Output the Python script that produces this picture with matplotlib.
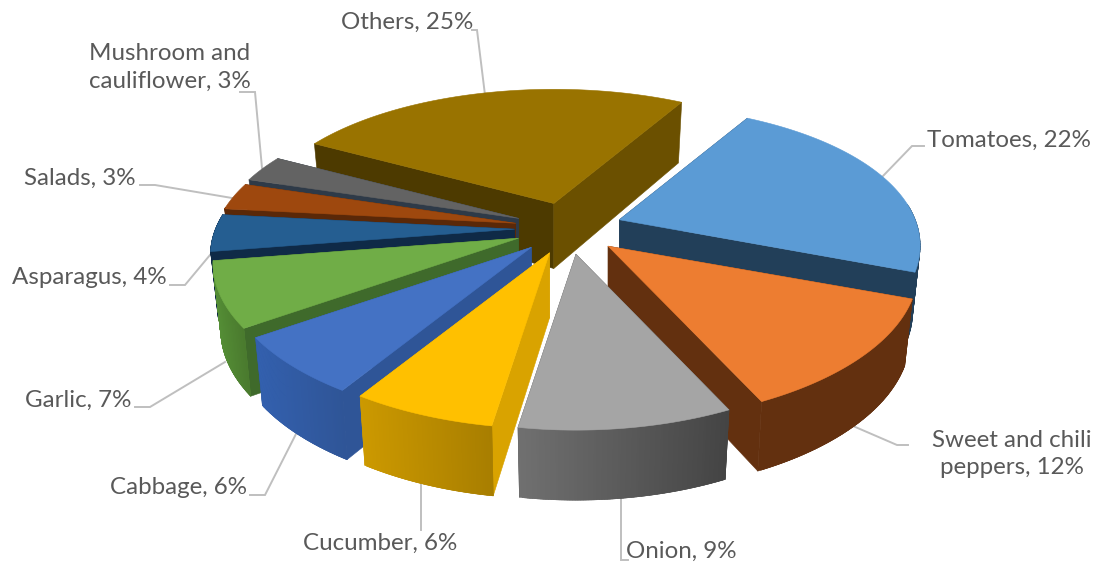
import numpy as np
import matplotlib
matplotlib.use("Agg")
import matplotlib.pyplot as plt
from matplotlib.patches import Polygon

# ---- data ----
categories = ["Tomatoes", "Sweet and chili\npeppers", "Onion", "Cucumber", "Cabbage",
              "Garlic", "Asparagus", "Salads", "Mushroom and\ncauliflower", "Others"]
# shares; the labels show them rounded
values = [22.4, 12.35, 9.45, 6.4, 6.4, 7.2, 4.2, 3.1, 3.1, 25.45]

# ---- style ----
top_colors = ["#5B9BD5", "#ED7D31", "#A5A5A5", "#FFC000", "#4472C4",
              "#70AD47", "#255E91", "#9E480E", "#636363", "#997300"]
face_end = ["#223F59", "#63300F", "#4A4A4A", "#D9A300", "#2F5597",
            "#3F6A2B", "#0F2A47", "#5A2808", "#2E3A48", "#6B5000"]
face_start = ["#223F59", "#63300F", "#4A4A4A", "#D9A300", "#2F5597",
              "#3F6A2B", "#0F2A47", "#5A2808", "#2E3A48", "#4D3A00"]
wall_left = ["#223F59", "#63300F", "#707070", "#CC9900", "#3360AE",
             "#558F36", "#0F2A47", "#5A2808", "#4C4C4C", "#6B5000"]
wall_right = ["#223F59", "#63300F", "#444444", "#A87E00", "#2F5597",
              "#4A7A2E", "#0F2A47", "#5A2808", "#4C4C4C", "#6B5000"]
draw_order = [9, 0, 8, 7, 6, 5, 4, 3, 1, 2]
start_angle = 30.0
text_color = "#595959"
leader_color = "#BFBFBF"

label_layout = [
    dict(xy=(1009, 140), ha="center", leader=[(883, 176), (912, 146), (924, 146)]),
    dict(xy=(1012, 454), ha="center", leader=[(853, 426), (897, 445), (908, 445)]),
    dict(xy=(681, 551), ha="center", leader=[(621, 498), (621, 560), (628, 560)]),
    dict(xy=(380, 543), ha="center", leader=[(421, 484), (421, 530)]),
    dict(xy=(179, 488), ha="center", leader=[(297, 432), (265, 495), (250, 495)]),
    dict(xy=(78, 400), ha="center", leader=[(225, 362), (150, 407), (135, 407)]),
    dict(xy=(89, 277), ha="center", leader=[(210, 255), (185, 285), (170, 285)]),
    dict(xy=(80, 178), ha="center", leader=[(232, 198), (155, 185), (140, 185)]),
    dict(xy=(170, 67), ha="center", leader=[(262, 168), (255, 92), (240, 92)]),
    dict(xy=(407, 22), ha="center", leader=[(485, 95), (477, 30), (472, 30)]),
]

# ---- projection of the tilted pie ----
CX, CY = 568.5, 228.5
EX, EY = 54.0, 26.0
A, B, PX, PY = 138.6, 299.0, 0.18, 0.208


def rim(phi, mid):
    u, v = np.sin(phi), -np.cos(phi)
    near = -np.cos(mid)
    kx = 1.0 + near * (0.012 + 0.02 * max(np.sin(mid), 0.0))
    return (B * u * kx / (1.0 - PX * v),
            A * v * (1.0 + 0.005 * near) / (1.0 - PY * v))


def lower(dx, dy, phi):
    v = -np.cos(phi)
    return dx * 0.975, dy + 65.0 + 5.0 * v


def mix(c1, c2, t):
    a = np.array(matplotlib.colors.to_rgb(c1))
    b = np.array(matplotlib.colors.to_rgb(c2))
    return tuple(a + (b - a) * t)


plt.rcParams["font.family"] = ["Lato", "DejaVu Sans"]
fig = plt.figure(figsize=(10.97, 5.65), dpi=100)
ax = fig.add_axes([0, 0, 1, 1])
ax.set_xlim(0, 1097)
ax.set_ylim(565, 0)
ax.axis("off")

fractions = np.array(values, dtype=float) / sum(values)
edges = np.radians(start_angle) + 2 * np.pi * np.concatenate([[0], np.cumsum(fractions)])


def poly(pts, color, z):
    ax.add_patch(Polygon(pts, closed=True, facecolor=color, edgecolor=color,
                         linewidth=0.4, zorder=z, joinstyle="round"))


z = 1
for i in draw_order:
    a0, a1 = edges[i], edges[i + 1]
    mid = (a0 + a1) / 2
    ax0 = CX + EX * np.sin(mid)
    ay0 = CY - EY * np.cos(mid)
    phis = np.linspace(a0, a1, 81)
    dx, dy = rim(phis, mid)
    top_x, top_y = ax0 + dx, ay0 + dy
    lx, ly = lower(dx, dy, phis)
    bot_x, bot_y = ax0 + lx, ay0 + ly
    abx, aby = ax0, ay0 + 65.0

    # radial faces
    poly([(ax0, ay0), (top_x[0], top_y[0]), (bot_x[0], bot_y[0]), (abx, aby)], face_start[i], z)
    z += 1
    poly([(ax0, ay0), (top_x[-1], top_y[-1]), (bot_x[-1], bot_y[-1]), (abx, aby)], face_end[i], z)
    z += 1
    # outer wall: only the part turned towards the viewer, in overlapping strips
    front = np.where(-np.cos(phis) > -0.12)[0]
    if len(front) > 1:
        xs = top_x[front]
        xmin, xmax = xs.min(), xs.max()
        seq = front[np.argsort(xs)]
        for a, b in zip(seq[:-1], seq[2:].tolist() + [seq[-1]]):
            t = (top_x[a] - xmin) / max(xmax - xmin, 1)
            idx = sorted(range(min(a, b), max(a, b) + 1))
            pts = [(top_x[k], top_y[k]) for k in idx] + [(bot_x[k], bot_y[k]) for k in idx[::-1]]
            poly(pts, mix(wall_left[i], wall_right[i], t), z)
    z += 1
    # top
    poly(np.column_stack([np.r_[ax0, top_x], np.r_[ay0, top_y]]), top_colors[i], z)
    z += 1

# ---- labels and leaders ----
for name, val, lay in zip(categories, values, label_layout):
    lxs, lys = zip(*lay["leader"])
    ax.plot(lxs, lys, color=leader_color, lw=1.4, zorder=0.5, solid_joinstyle="miter")
    ax.text(lay["xy"][0], lay["xy"][1], f"{name}, {val:.0f}%", ha=lay["ha"], va="center",
            color=text_color, fontsize=17.4, linespacing=1.4, zorder=2000)

fig.savefig("out.png", dpi=100, facecolor="white")
